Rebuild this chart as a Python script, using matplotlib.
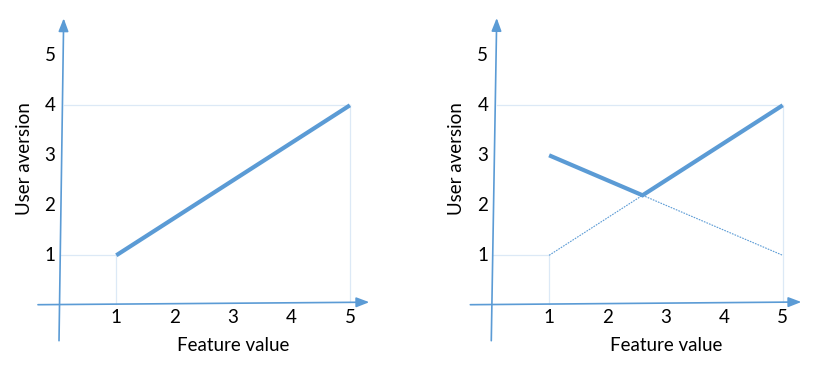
"""
Two sketch-style panels: user aversion vs feature value.
Left: a single linear cost. Right: the max of two crossing linear costs.
"""

import matplotlib
matplotlib.use("Agg")
import matplotlib.pyplot as plt

plt.rcParams['font.family'] = ['Lato', 'DejaVu Sans']

# data
x_ticks = [1, 2, 3, 4, 5]
y_ticks = [1, 2, 3, 4, 5]

left_x = [1, 5]
left_y = [1, 4]

right_x = [1, 2.6, 5]
right_upper = [3, 2.2, 4]   # thick: max of the two lines
right_lower = [1, 2.2, 1]   # thin: the hidden parts

x_label = "Feature value"
y_label = "User aversion"

# style
BLUE = '#5B9BD5'
GUIDE = '#DCE9F6'
FS = 13.5

# geometry of each panel (pixels, 830x370 figure)
PX_UNIT_X = 58.4
PX_UNIT_Y = 50.0
ZERO_Y_PX = 305.3


def draw_panel(ax, x0_px, xaxis, yaxis, guides):
    # map panel pixels to data units
    ax.set_xlim(-x0_px / PX_UNIT_X, (415 - x0_px) / PX_UNIT_X)
    ax.set_ylim((ZERO_Y_PX - 370) / PX_UNIT_Y, ZERO_Y_PX / PX_UNIT_Y)
    ax.axis('off')

    # hand-drawn looking axes with arrow heads
    for (x0, y0), (x1, y1) in (xaxis, yaxis):
        ax.annotate('', xy=(x1, y1), xytext=(x0, y0),
                    arrowprops=dict(arrowstyle='-|>,head_length=0.65,head_width=0.25',
                                    mutation_scale=12, color=BLUE, lw=1.2,
                                    shrinkA=0, shrinkB=0))

    # faint guide lines
    for gx, gy in guides:
        ax.plot(gx, gy, color=GUIDE, lw=0.9, zorder=1)

    for t in x_ticks:
        ax.text(t, -0.24, str(t), ha='center', va='center', fontsize=FS)
    for t in y_ticks:
        ax.text(-0.135, t, str(t), ha='center', va='center', fontsize=FS)

    ax.text(3.0, -0.8, x_label, ha='center', va='center', fontsize=FS)
    ax.text(-0.58, 2.94, y_label, ha='center', va='center', fontsize=FS,
            rotation=90)


fig = plt.figure(figsize=(8.3, 3.7), dpi=100)
ax1 = fig.add_axes([0, 0, 0.5, 1])
ax2 = fig.add_axes([0.5, 0, 0.5, 1])

guides = [
    ([0.1, 5], [4, 4]),
    ([5, 5], [4, 0.06]),
    ([0.03, 1], [1, 1]),
    ([1, 1], [1, 0.02]),
]

draw_panel(ax1, 57.9,
           ((-0.341, 0.012), (5.332, 0.062)),
           ((0.019, -0.708), (0.099, 5.74)),
           guides)
ax1.plot(left_x, left_y, color=BLUE, lw=3.0, solid_capstyle='butt', zorder=3)

draw_panel(ax2, 75.7,
           ((-0.349, 0.012), (5.319, 0.066)),
           ((0.010, -0.708), (0.103, 5.746)),
           guides)
ax2.plot(right_x, right_lower, color=BLUE, lw=0.8, ls=(0, (1.5, 1)), zorder=2)
ax2.plot(right_x, right_upper, color=BLUE, lw=3.0, solid_capstyle='butt',
         solid_joinstyle='miter', zorder=3)

fig.savefig('out.png', dpi=100, facecolor='white')
